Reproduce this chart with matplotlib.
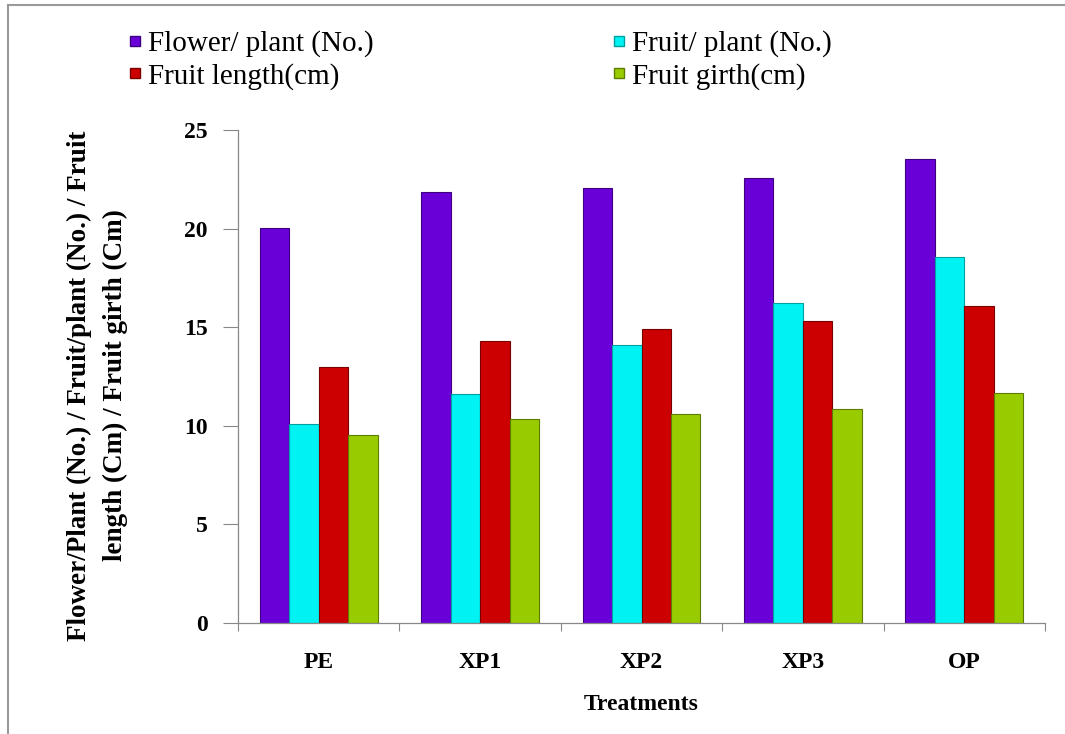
import numpy as np
import matplotlib.pyplot as plt
from matplotlib.lines import Line2D

# Data
treatments = ["PE", "XP1", "XP2", "XP3", "OP"]
flower_per_plant = [20.05, 21.85, 22.05, 22.55, 23.55]
fruit_per_plant = [10.1, 11.6, 14.1, 16.25, 18.55]
fruit_length = [13.0, 14.3, 14.9, 15.3, 16.05]
fruit_girth = [9.55, 10.35, 10.6, 10.85, 11.65]

series = [flower_per_plant, fruit_per_plant, fruit_length, fruit_girth]
labels = ["Flower/ plant (No.)", "Fruit/ plant (No.)", "Fruit length(cm)", "Fruit girth(cm)"]
colors = ["#6A00D8", "#00F2F2", "#CC0000", "#99CC00"]
edges = ["#3E0080", "#00A0A0", "#7A0000", "#5E7D00"]

plt.rcParams['font.family'] = ['Liberation Serif', 'DejaVu Serif']

fig = plt.figure(figsize=(10.65, 7.34), dpi=100)
W, H = 1065, 734
ax = fig.add_axes([238 / W, 1 - 623 / H, (1045 - 238) / W, (623 - 130) / H])

x = np.arange(len(treatments))
bw = 0.1825
for i, (vals, c, e, lab) in enumerate(zip(series, colors, edges, labels)):
    ax.bar(x + (i - 1.5) * bw, vals, bw, color=c, edgecolor=e, linewidth=0.8, label=lab)

ax.set_xlim(-0.5, len(treatments) - 0.5)
ax.set_ylim(0, 25)
ax.set_yticks([0, 5, 10, 15, 20, 25])
ax.set_yticklabels([str(v) for v in [0, 5, 10, 15, 20, 25]], fontsize=17, fontweight='bold')
ax.tick_params(axis='y', length=11, width=0.8, color='#888888', pad=11)

ax.set_xticks(x)
ax.set_xticklabels(treatments, fontsize=17, fontweight='bold')
ax.tick_params(axis='x', length=0, pad=21)
# category boundary ticks
ax.set_xticks(np.arange(len(treatments) + 1) - 0.5, minor=True)
ax.tick_params(axis='x', which='minor', length=6, width=0.8, color='#888888')

for s in ['top', 'right']:
    ax.spines[s].set_visible(False)
for s in ['left', 'bottom']:
    ax.spines[s].set_color('#888888')
    ax.spines[s].set_linewidth(0.9)

ax.set_xlabel("Treatments", fontsize=17, fontweight='bold')
ax.xaxis.set_label_coords(0.5, -0.145)
ax.set_ylabel("Flower/Plant (No.) / Fruit/plant (No.) / Fruit\nlength (Cm) / Fruit girth (Cm)",
              fontsize=19.5, fontweight='bold', linespacing=1.6)
ax.yaxis.set_label_coords(-0.136, 0.482)

handles = [Line2D([], [], marker='s', linestyle='none', markersize=7,
                  markerfacecolor=c, markeredgecolor=e) for c, e in zip(colors, edges)]
# legend is filled row by row in the reference
order = [0, 2, 1, 3]
fig.legend([handles[k] for k in order], [labels[k] for k in order], ncol=2, loc='upper left',
           bbox_to_anchor=(97 / W, 1 - 4 / H), frameon=False, fontsize=21,
           handletextpad=0.05, columnspacing=8.0, labelspacing=0.2, handlelength=0.8)

# outer frame
fig.add_artist(Line2D([8 / W, 8 / W], [0, 1 - 5 / H], color='#999999', linewidth=1.5,
                      transform=fig.transFigure))
fig.add_artist(Line2D([8 / W, 1], [1 - 5 / H, 1 - 5 / H], color='#999999', linewidth=1.5,
                      transform=fig.transFigure))

fig.savefig("out.png", dpi=100)
